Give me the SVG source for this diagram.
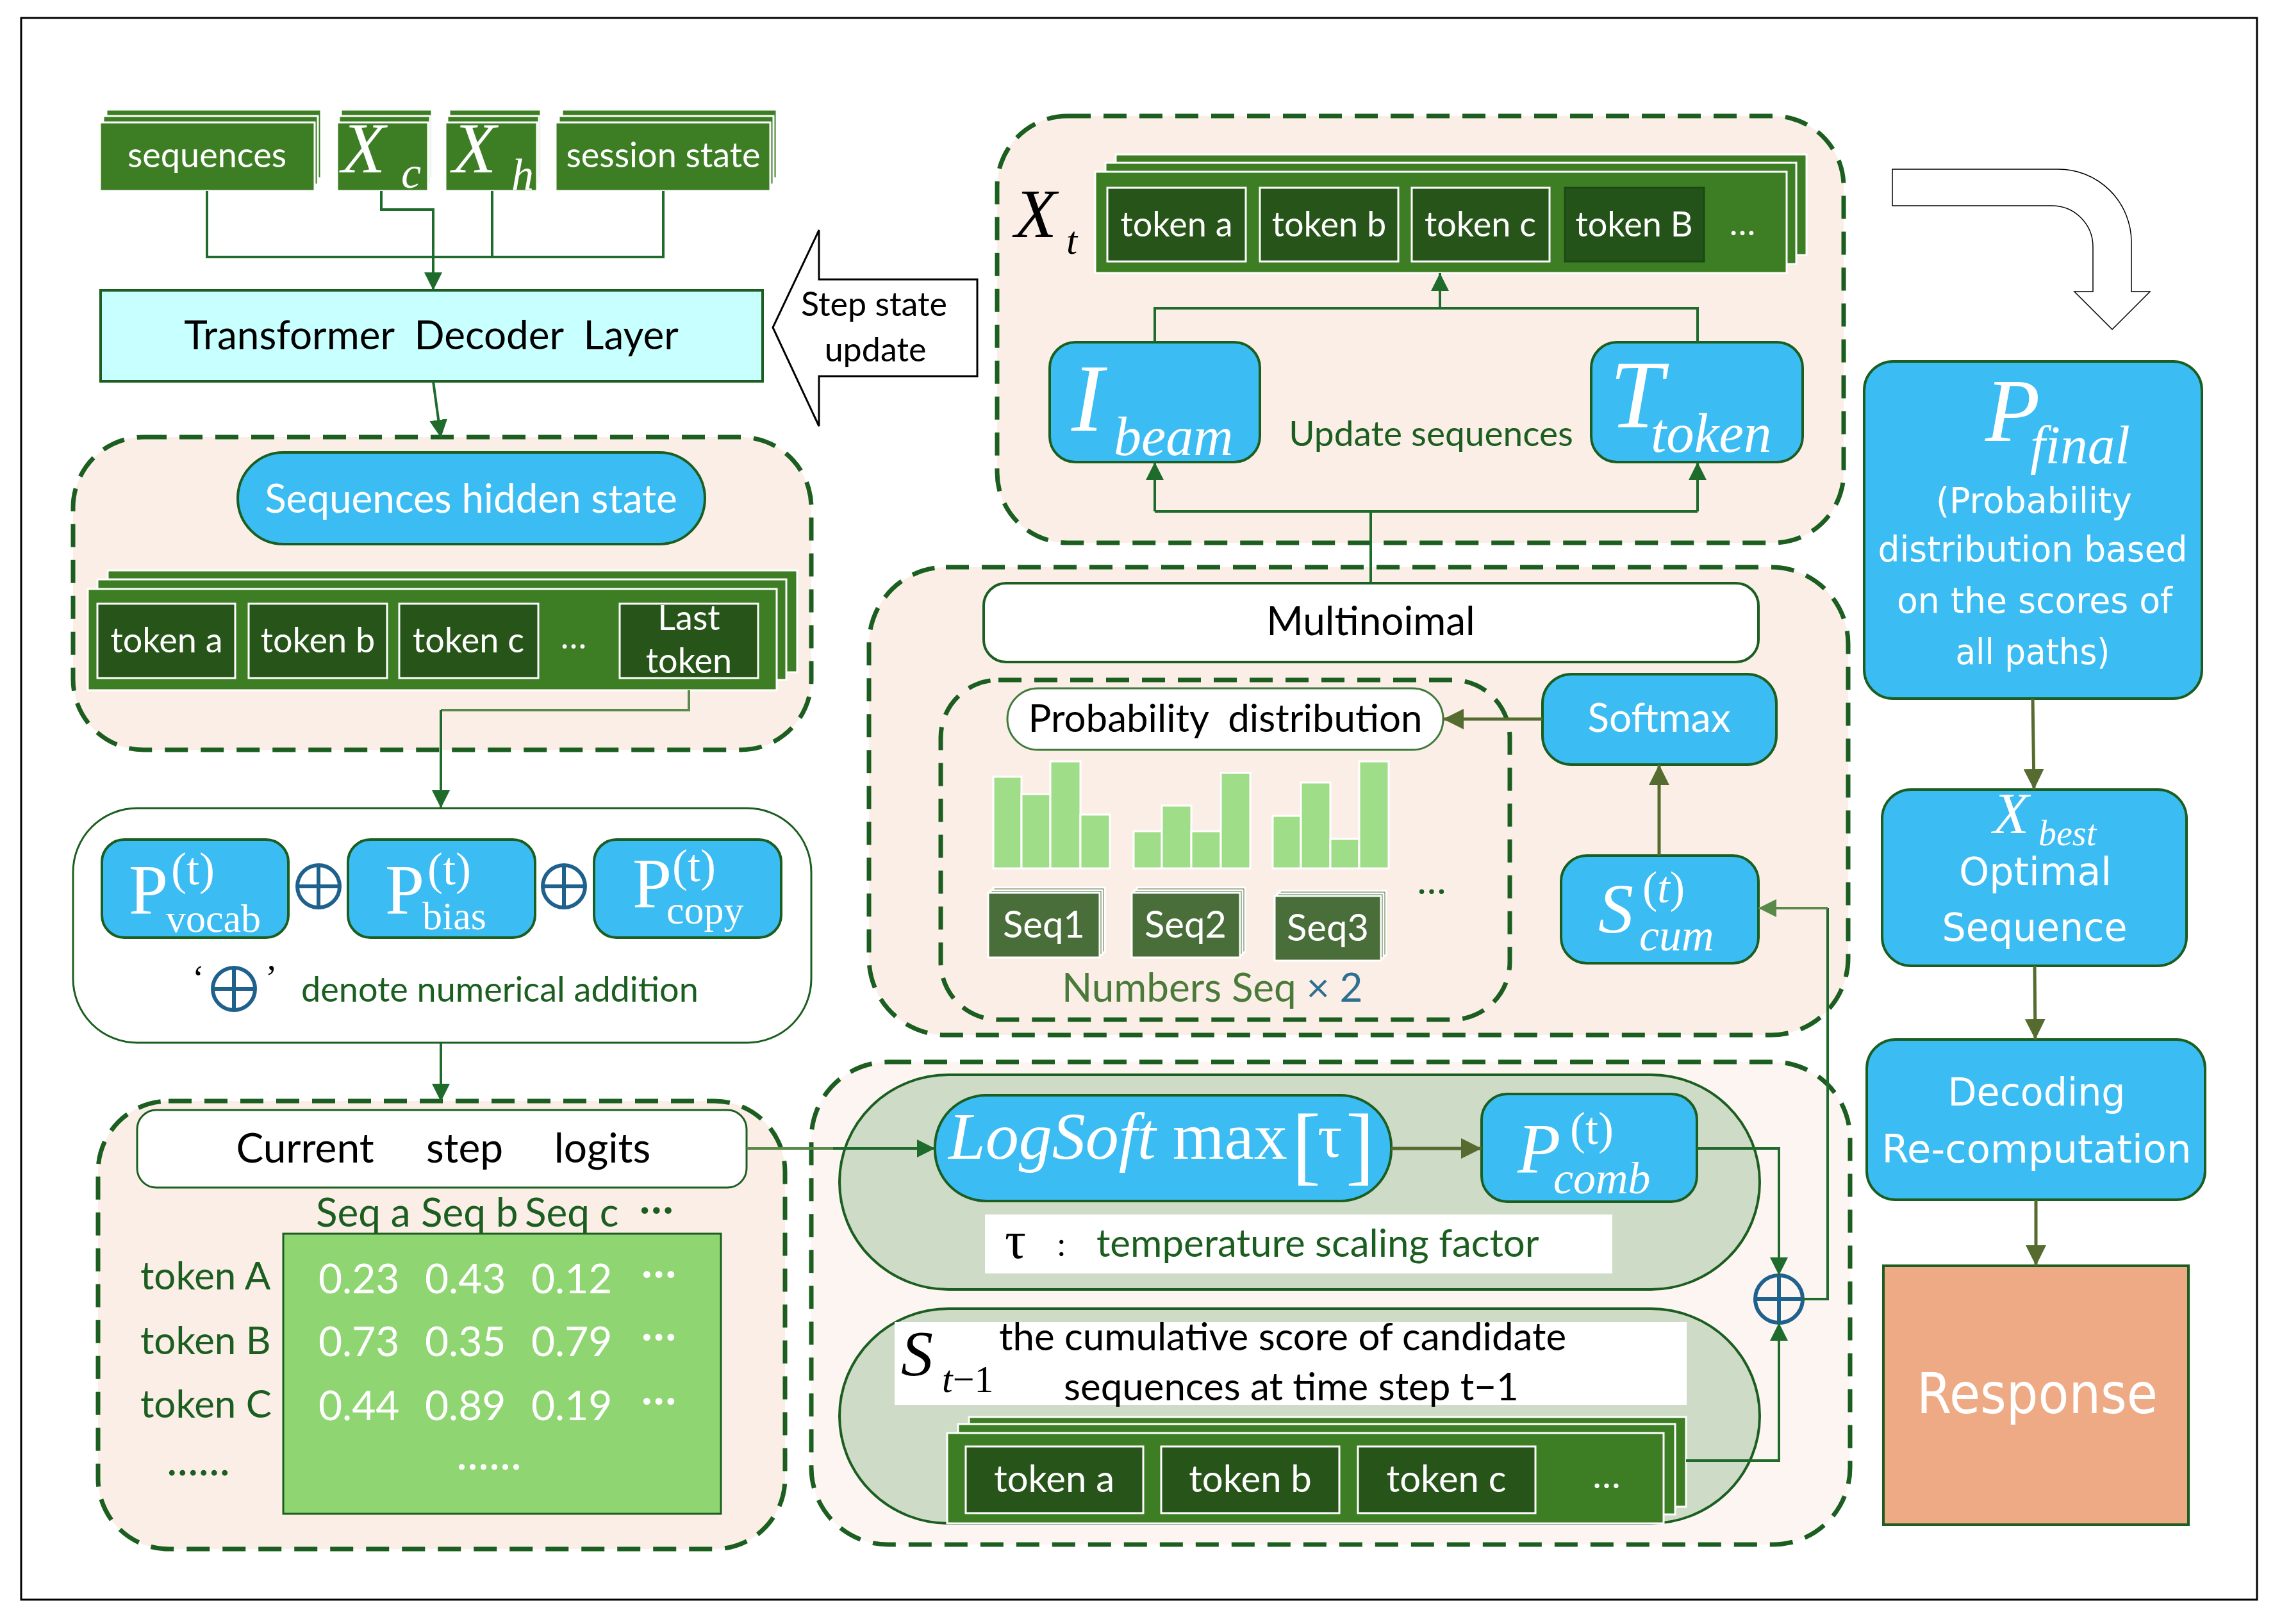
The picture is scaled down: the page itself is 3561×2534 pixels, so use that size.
<svg xmlns="http://www.w3.org/2000/svg" width="3561" height="2534" viewBox="0 0 3561 2534">
<style>
.t{font-family:Lato,"Liberation Sans",sans-serif}
.w{font-family:"DejaVu Sans","Open Sans",sans-serif;fill:#fff}
.m{font-family:"Liberation Serif","Times New Roman",serif}
.i{font-style:italic}
.dash{fill:#FAEEE6;stroke:#1B5E20;stroke-width:7;stroke-dasharray:36 20}
.blue{fill:#3BBCF2;stroke:#1B5E20;stroke-width:4}
.stk{fill:#3D7E25;stroke:#fff;stroke-width:3}
.tok{fill:#265419;stroke:#fff;stroke-width:3}
.wt{fill:#fff}
.bk{fill:#000}
.dg{fill:#1B5E20}
.c{stroke:#1E6B2C;stroke-width:4;fill:none}
.co{stroke:#556B2F;stroke-width:5;fill:none}
.cl{stroke:#5A8A4A;stroke-width:4;fill:none}
.bar{fill:#A0DD88;stroke:#fff;stroke-width:3}
.seq{fill:#4A6E3A;stroke:#fff;stroke-width:3}
.op{fill:none;stroke:#1F618D;stroke-width:6}
</style>
<defs>
<marker id="ag" viewBox="0 0 10 10" refX="10" refY="5" markerWidth="28" markerHeight="28" markerUnits="userSpaceOnUse" orient="auto"><path d="M0,0 L10,5 L0,10 z" fill="#1E6B2C"/></marker>
<marker id="ao" viewBox="0 0 10 10" refX="10" refY="5" markerWidth="32" markerHeight="32" markerUnits="userSpaceOnUse" orient="auto"><path d="M0,0 L10,5 L0,10 z" fill="#556B2F"/></marker>
<marker id="al" viewBox="0 0 10 10" refX="10" refY="5" markerWidth="28" markerHeight="28" markerUnits="userSpaceOnUse" orient="auto"><path d="M0,0 L10,5 L0,10 z" fill="#5A8A4A"/></marker>
</defs>
<rect width="3561" height="2534" fill="#fff"/>
<rect x="33" y="28" width="3489" height="2468" fill="none" stroke="#000" stroke-width="3"/>

<!-- background containers -->
<g id="xt-group"><rect class="dash" x="1556" y="181" width="1321" height="666" rx="110"/></g>
<g id="hidden-group"><rect class="dash" x="114" y="682" width="1152" height="488" rx="110"/></g>
<g id="logits-group"><rect class="dash" x="153" y="1718" width="1072" height="699" rx="110"/></g>
<g id="sample-group"><rect class="dash" x="1356" y="885" width="1528" height="730" rx="120"/></g>
<g id="comb-group"><rect class="dash" x="1266" y="1657" width="1621" height="753" rx="120" style="fill:#FDF5F2"/></g>

<!-- inputs -->
<g id="sequences">
<rect class="stk" x="166" y="171" width="335" height="107"/><rect class="stk" x="161" y="181" width="335" height="107"/><rect class="stk" x="156" y="191" width="335" height="107"/>
<text class="t wt" x="323" y="261" font-size="54" text-anchor="middle">sequences</text>
</g>
<g id="xc">
<rect class="stk" x="532" y="171" width="142" height="107"/><rect class="stk" x="529" y="181" width="142" height="107"/><rect class="stk" x="526" y="191" width="142" height="107"/>
<text class="m i wt" x="533" y="269" font-size="112">X</text><text class="m i wt" x="626" y="293" font-size="70">c</text>
</g>
<g id="xh">
<rect class="stk" x="701" y="171" width="143" height="107"/><rect class="stk" x="698" y="181" width="143" height="107"/><rect class="stk" x="695" y="191" width="143" height="107"/>
<text class="m i wt" x="706" y="269" font-size="112">X</text><text class="m i wt" x="798" y="296" font-size="70">h</text>
</g>
<g id="session-state">
<rect class="stk" x="877" y="171" width="335" height="107"/><rect class="stk" x="872" y="181" width="335" height="107"/><rect class="stk" x="867" y="191" width="335" height="107"/>
<text class="t wt" x="1035" y="261" font-size="54" text-anchor="middle">session state</text>
</g>
<g id="transformer">
<rect x="157" y="453" width="1033" height="142" fill="#C8FFFF" stroke="#1B5E20" stroke-width="4"/>
<text class="t bk" x="673" y="545" font-size="62" text-anchor="middle" xml:space="preserve">Transformer  Decoder  Layer</text>
</g>
<g id="step-state-update">
<polygon points="1206,511 1278,359 1278,436 1525,436 1525,587 1278,587 1278,665" fill="#fff" stroke="#000" stroke-width="3"/>
<text class="t bk" x="1364" y="493" font-size="52" text-anchor="middle">Step state</text>
<text class="t bk" x="1366" y="564" font-size="52" text-anchor="middle">update</text>
</g>

<!-- Xt -->
<g id="xt-stack">
<rect class="stk" x="1741" y="241" width="1078" height="157"/><rect class="stk" x="1725" y="254" width="1078" height="158"/><rect class="stk" x="1709" y="268" width="1079" height="158"/>
<rect class="tok" x="1728" y="293" width="216" height="115"/><rect class="tok" x="1966" y="293" width="216" height="115"/><rect class="tok" x="2203" y="293" width="215" height="115"/><rect x="2442" y="293" width="217" height="115" fill="#235318" stroke="#1A4A14" stroke-width="3"/>
<g class="t wt" font-size="54" text-anchor="middle"><text x="1836" y="369">token a</text><text x="2074" y="369">token b</text><text x="2310" y="369">token c</text><text x="2550" y="369">token B</text><text x="2719" y="367">…</text></g>
<text class="m i bk" x="1583" y="370" font-size="108">X</text><text class="m i bk" x="1664" y="396" font-size="62">t</text>
</g>
<g id="i-beam">
<rect class="blue" x="1638" y="534" width="328" height="187" rx="40"/>
<text class="m i wt" x="1672" y="672" font-size="150">I</text><text class="m i wt" x="1738" y="710" font-size="86">beam</text>
</g>
<g id="t-token">
<rect class="blue" x="2483" y="534" width="330" height="187" rx="40"/>
<text class="m i wt" x="2512" y="666" font-size="150">T</text><text class="m i wt" x="2576" y="705" font-size="87">token</text>
</g>
<text class="t dg" x="2233" y="696" font-size="55" text-anchor="middle">Update sequences</text>

<!-- right column -->
<g id="loop-arrow"><path d="M2953,264 H3212 A114,114 0 0 1 3326,378 V455 H3355 L3296,514 L3237,455 H3266 V385 A64,64 0 0 0 3202,321 H2953 Z" fill="#fff" stroke="#000" stroke-width="1.5"/></g>
<g id="p-final">
<rect class="blue" x="2909" y="564" width="527" height="526" rx="45"/>
<text class="m i wt" x="3098" y="688" font-size="140">P</text><text class="m i wt" x="3168" y="723" font-size="85">final</text>
<text class="w" x="3174" y="800" font-size="56" text-anchor="middle" textLength="306" lengthAdjust="spacingAndGlyphs">(Probability</text>
<text class="w" x="3172" y="876" font-size="56" text-anchor="middle" textLength="483" lengthAdjust="spacingAndGlyphs">distribution based</text>
<text class="w" x="3175" y="956" font-size="56" text-anchor="middle" textLength="430" lengthAdjust="spacingAndGlyphs">on the scores of</text>
<text class="w" x="3172" y="1036" font-size="56" text-anchor="middle" textLength="241" lengthAdjust="spacingAndGlyphs">all paths)</text>
</g>
<g id="x-best">
<rect class="blue" x="2937" y="1232" width="475" height="275" rx="45"/>
<text class="m i wt" x="3110" y="1300" font-size="92">X</text><text class="m i wt" x="3181" y="1319" font-size="56">best</text>
<text class="w" x="3176" y="1381" font-size="60" text-anchor="middle" textLength="238" lengthAdjust="spacingAndGlyphs">Optimal</text>
<text class="w" x="3175" y="1468" font-size="60" text-anchor="middle" textLength="289" lengthAdjust="spacingAndGlyphs">Sequence</text>
</g>
<g id="decoding">
<rect class="blue" x="2913" y="1622" width="528" height="250" rx="45"/>
<text class="w" x="3178" y="1725" font-size="60" text-anchor="middle" textLength="277" lengthAdjust="spacingAndGlyphs">Decoding</text>
<text class="w" x="3178" y="1814" font-size="60" text-anchor="middle" textLength="483" lengthAdjust="spacingAndGlyphs">Re-computation</text>
</g>
<g id="response">
<rect x="2939" y="1975" width="476" height="404" fill="#EEAA85" stroke="#1B5E20" stroke-width="4"/>
<text class="w" x="3179" y="2205" font-size="88" text-anchor="middle" textLength="376" lengthAdjust="spacingAndGlyphs">Response</text>
</g>

<!-- hidden state -->
<g id="hidden-state">
<rect x="371" y="706" width="729" height="143" rx="71.5" fill="#3BBCF2" stroke="#1B5E20" stroke-width="4"/>
<text class="t wt" x="735" y="800" font-size="62" text-anchor="middle">Sequences hidden state</text>
</g>
<g id="hidden-stack">
<rect class="stk" x="168" y="890" width="1076" height="159"/><rect class="stk" x="152" y="904" width="1075" height="157"/><rect class="stk" x="137" y="919" width="1075" height="158"/>
<rect class="tok" x="152" y="942" width="215" height="116"/><rect class="tok" x="388" y="942" width="216" height="116"/><rect class="tok" x="623" y="942" width="217" height="116"/><rect class="tok" x="967" y="942" width="216" height="116"/>
<g class="t wt" font-size="54" text-anchor="middle"><text x="260" y="1018">token a</text><text x="496" y="1018">token b</text><text x="731" y="1018">token c</text><text x="895" y="1012">…</text><text x="1075" y="983">Last</text><text x="1075" y="1050">token</text></g>
</g>

<!-- P box -->
<g id="p-sum">
<rect x="114" y="1261" width="1152" height="366" rx="100" fill="#fff" stroke="#1B5E20" stroke-width="3"/>
<rect class="blue" x="159" y="1310" width="291" height="153" rx="35"/>
<rect class="blue" x="543" y="1310" width="292" height="153" rx="35"/>
<rect class="blue" x="927" y="1310" width="292" height="153" rx="35"/>
<g class="m wt">
<text x="201" y="1425" font-size="110">P</text><text x="267" y="1380" font-size="72">(t)</text><text x="259" y="1454" font-size="62">vocab</text>
<text x="601" y="1425" font-size="110">P</text><text x="667" y="1380" font-size="72">(t)</text><text x="659" y="1450" font-size="62">bias</text>
<text x="987" y="1415" font-size="110">P</text><text x="1049" y="1375" font-size="72">(t)</text><text x="1040" y="1441" font-size="62">copy</text>
</g>
<g class="op"><circle cx="497" cy="1383" r="33"/><path d="M464,1383 H530 M497,1350 V1416"/><circle cx="880" cy="1383" r="33"/><path d="M847,1383 H913 M880,1350 V1416"/></g>
<text class="m bk" x="300" y="1545" font-size="56">‘</text>
<g class="op"><circle cx="365" cy="1543" r="33"/><path d="M332,1543 H398 M365,1510 V1576"/></g>
<text class="m bk" x="414" y="1545" font-size="56">’</text>
<text class="t dg" x="470" y="1563" font-size="54">denote numerical addition</text>
</g>

<!-- logits -->
<g id="current-logits">
<rect x="214" y="1732" width="951" height="121" rx="30" fill="#fff" stroke="#1B5E20" stroke-width="3"/>
<g class="t bk" font-size="64" text-anchor="middle"><text x="476" y="1814">Current</text><text x="725" y="1814">step</text><text x="940" y="1814">logits</text></g>
</g>
<g id="logits-matrix">
<g class="t dg" font-size="62"><text x="493" y="1914">Seq a</text><text x="657" y="1914">Seq b</text><text x="819" y="1914">Seq c</text><text x="997" y="1910" font-size="70">···</text></g>
<rect x="442" y="1925" width="683" height="437" fill="#8FD672" stroke="#1B5E20" stroke-width="3"/>
<g class="t dg" font-size="60"><text x="219" y="2012">token A</text><text x="219" y="2113">token B</text><text x="219" y="2212">token C</text><text x="260" y="2302" font-size="70">......</text></g>
<g class="t wt" font-size="64">
<text x="497" y="2018">0.23</text><text x="663" y="2018">0.43</text><text x="829" y="2018">0.12</text><text x="1000" y="2010" font-size="72">···</text>
<text x="497" y="2116">0.73</text><text x="663" y="2116">0.35</text><text x="829" y="2116">0.79</text><text x="1000" y="2108" font-size="72">···</text>
<text x="497" y="2216">0.44</text><text x="663" y="2216">0.89</text><text x="829" y="2216">0.19</text><text x="1000" y="2208" font-size="72">···</text>
<text x="712" y="2293" font-size="72">......</text>
</g>
</g>

<!-- sampling -->
<g id="multinomial">
<rect x="1535" y="910" width="1209" height="123" rx="35" fill="#fff" stroke="#1B5E20" stroke-width="4"/>
<text class="t bk" x="2139" y="991" font-size="62" text-anchor="middle">Multinoimal</text>
</g>
<g id="prob-dist">
<rect x="1468" y="1061" width="888" height="530" rx="90" fill="none" stroke="#1B5E20" stroke-width="7" stroke-dasharray="36 20"/>
<rect x="1572" y="1074" width="680" height="96" rx="48" fill="#fff" stroke="#3F7A3A" stroke-width="3"/>
<text class="t bk" x="1912" y="1142" font-size="60" text-anchor="middle" xml:space="preserve">Probability  distribution</text>
<rect class="bar" x="1550" y="1212" width="44" height="143"/><rect class="bar" x="1594" y="1239" width="45" height="116"/><rect class="bar" x="1639" y="1188" width="47" height="167"/><rect class="bar" x="1686" y="1271" width="46" height="84"/>
<rect class="bar" x="1769" y="1297" width="44" height="58"/><rect class="bar" x="1813" y="1257" width="46" height="98"/><rect class="bar" x="1859" y="1297" width="46" height="58"/><rect class="bar" x="1905" y="1206" width="46" height="149"/>
<rect class="bar" x="1986" y="1273" width="44" height="82"/><rect class="bar" x="2030" y="1221" width="46" height="134"/><rect class="bar" x="2076" y="1309" width="45" height="46"/><rect class="bar" x="2121" y="1188" width="46" height="167"/>
<rect class="seq" x="1550" y="1385" width="174" height="101"/><rect class="seq" x="1546" y="1389" width="174" height="101"/><rect class="seq" x="1542" y="1393" width="174" height="101"/>
<rect class="seq" x="1774" y="1385" width="169" height="101"/><rect class="seq" x="1770" y="1389" width="169" height="101"/><rect class="seq" x="1766" y="1393" width="169" height="101"/>
<rect class="seq" x="1997" y="1390" width="166" height="101"/><rect class="seq" x="1993" y="1394" width="166" height="101"/><rect class="seq" x="1989" y="1398" width="166" height="101"/>
<g class="t wt" font-size="58" text-anchor="middle"><text x="1629" y="1463">Seq1</text><text x="1850" y="1463">Seq2</text><text x="2072" y="1468">Seq3</text></g>
<text class="t dg" x="2234" y="1395" font-size="60" text-anchor="middle">…</text>
<text class="t" x="1657" y="1563" font-size="62" fill="#4A7A3A">Numbers Seq <tspan fill="#2E7090">× 2</tspan></text>
</g>
<g id="softmax">
<rect class="blue" x="2407" y="1052" width="365" height="141" rx="45"/>
<text class="t wt" x="2589" y="1142" font-size="62" text-anchor="middle">Softmax</text>
</g>
<g id="s-cum">
<rect class="blue" x="2436" y="1335" width="308" height="168" rx="40"/>
<text class="m i wt" x="2494" y="1455" font-size="110">S</text><text class="m wt" x="2563" y="1408" font-size="70">(<tspan font-style="italic">t</tspan>)</text><text class="m i wt" x="2558" y="1483" font-size="70">cum</text>
</g>

<!-- combination -->
<g id="comb-upper">
<rect x="1310" y="1677" width="1436" height="335" rx="170" fill="#CEDBC7" stroke="#1B5E20" stroke-width="4"/>
<rect class="blue" x="1459" y="1709" width="712" height="165" rx="80"/>
<text class="m wt" x="1480" y="1808" font-size="104"><tspan font-style="italic">LogSoft</tspan> max</text>
<text class="m wt" x="2016" y="1832" font-size="135">[</text><text class="m wt" x="2056" y="1805" font-size="96">τ</text><text class="m wt" x="2100" y="1832" font-size="135">]</text>
<rect class="blue" x="2312" y="1707" width="336" height="168" rx="40"/>
<text class="m i wt" x="2368" y="1829" font-size="110">P</text><text class="m wt" x="2450" y="1785" font-size="72">(t)</text><text class="m i wt" x="2424" y="1862" font-size="70">comb</text>
<rect x="1537" y="1895" width="979" height="92" fill="#fff"/>
<text class="m bk" x="1568" y="1963" font-size="82">τ</text><text class="t bk" x="1650" y="1960" font-size="50">:</text>
<text class="t dg" x="1711" y="1961" font-size="60">temperature scaling factor</text>
</g>
<g id="comb-lower">
<rect x="1310" y="2042" width="1436" height="335" rx="170" fill="#CEDBC7" stroke="#1B5E20" stroke-width="4"/>
<rect x="1396" y="2063" width="1236" height="129" fill="#fff"/>
<text class="m i bk" x="1406" y="2145" font-size="100">S</text><text class="m bk" x="1470" y="2172" font-size="60"><tspan font-style="italic">t</tspan>−1</text>
<text class="t bk" x="1559" y="2107" font-size="60">the cumulative score of candidate</text>
<text class="t bk" x="1660" y="2185" font-size="60">sequences at time step t−1</text>
<rect class="stk" x="1512" y="2211" width="1119" height="140"/><rect class="stk" x="1495" y="2222" width="1119" height="141"/><rect class="stk" x="1478" y="2236" width="1118" height="141"/>
<rect class="tok" x="1507" y="2257" width="277" height="104"/><rect class="tok" x="1812" y="2257" width="278" height="104"/><rect class="tok" x="2119" y="2257" width="277" height="104"/>
<g class="t wt" font-size="58" text-anchor="middle"><text x="1645" y="2328">token a</text><text x="1951" y="2328">token b</text><text x="2257" y="2328">token c</text><text x="2507" y="2322">…</text></g>
</g>
<g id="plus-comb" class="op"><circle cx="2776" cy="2027" r="37"/><path d="M2739,2027 H2813 M2776,1990 V2064"/></g>

<!-- connectors -->
<g id="connectors">
<path class="c" d="M323,298 V401 H1035 V298 M768,298 V401"/>
<path class="c" d="M595,298 V327 H676 V453" marker-end="url(#ag)"/>
<path class="c" d="M676,595 L688,683" marker-end="url(#ag)"/>
<path class="cl" d="M1075,1077 V1108 H688"/>
<path class="c" d="M688,1108 V1261" marker-end="url(#ag)"/>
<path class="c" d="M688,1627 V1719" marker-end="url(#ag)"/>
<path class="cl" d="M1165,1792 H1300"/>
<path class="c" d="M1300,1792 H1459" marker-end="url(#ag)"/>
<path class="co" d="M2171,1792 H2312" marker-end="url(#ao)"/>
<path class="c" d="M2648,1792 H2776 V1990" marker-end="url(#ag)"/>
<path class="c" d="M2631,2279 H2776 V2064" marker-end="url(#ag)"/>
<path class="c" d="M2813,2027 H2852 V1417"/>
<path class="cl" d="M2852,1417 H2744" marker-end="url(#al)"/>
<path class="co" d="M2589,1335 V1193" marker-end="url(#ao)"/>
<path class="co" d="M2407,1122 H2252" marker-end="url(#ao)"/>
<path class="c" d="M2139,910 V798 M1802,798 H2649"/>
<path class="c" d="M1802,798 V721" marker-end="url(#ag)"/>
<path class="c" d="M2649,798 V721" marker-end="url(#ag)"/>
<path class="c" d="M1802,534 V481 H2649 V534"/>
<path class="c" d="M2247,481 V426" marker-end="url(#ag)"/>
<path class="co" d="M3172,1090 L3174,1232" marker-end="url(#ao)"/>
<path class="co" d="M3175,1507 L3176,1622" marker-end="url(#ao)"/>
<path class="co" d="M3177,1872 V1975" marker-end="url(#ao)"/>
</g>
</svg>
